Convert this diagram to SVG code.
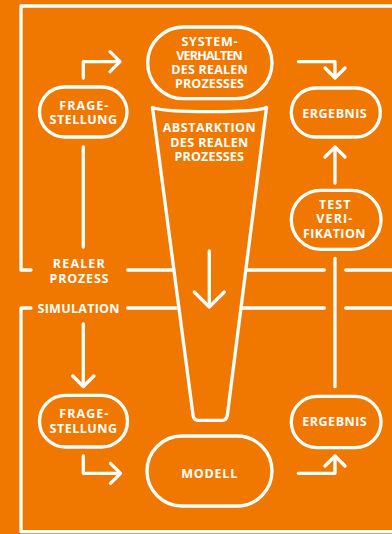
<svg xmlns="http://www.w3.org/2000/svg" xmlns:xlink="http://www.w3.org/1999/xlink" width="392" height="534" viewBox="0 0 392 534">
<style>
.ln{stroke:#fff;stroke-width:3.3;fill:none;stroke-linecap:round;stroke-linejoin:round}
.t{font-family:"Open Sans","Liberation Sans",sans-serif;font-weight:700;font-size:12.5px;fill:#fff;text-anchor:middle}
</style>
<defs>
<path id="chev" d="M-10,-10 L0,0 L10,-10"/>
</defs>
<rect x="0" y="0" width="392" height="534" fill="#F17800"/>
<g id="frame" class="ln">
<path d="M31,270 L21,270 L21,6 L392,6"/>
<path d="M31,308 L21,308 L21,531.7 L392,531.7"/>
</g>
<g id="connectors" class="ln">
<path d="M83.3,78 L83.3,61.7 L119,61.7"/>
<use xlink:href="#chev" transform="translate(120,61.7) rotate(-90)"/>
<path d="M298.5,61.7 L335,61.7 L335,77"/>
<use xlink:href="#chev" transform="translate(335,78)"/>
<path d="M335,183 L335,148"/>
<use xlink:href="#chev" transform="translate(335,147) rotate(180)"/>
<path d="M83.3,147 L83.3,247"/>
<path d="M335,258.3 L335,386.7"/>
<path d="M127.7,270 L173.6,270 M246.4,270 L324.3,270 M345.7,270 L392,270"/>
<path d="M127.7,308 L178.6,308 M241.5,308 L324.3,308 M345.7,308 L392,308"/>
<path d="M209.3,251 L209.3,306"/>
<use xlink:href="#chev" transform="translate(209.3,307) scale(1.5)" style="stroke-width:2.2"/>
<path d="M83.3,324 L83.3,385.5"/>
<use xlink:href="#chev" transform="translate(83.3,386.5) scale(1.05)"/>
<path d="M83.3,456 L83.3,473.3 L119.5,473.3"/>
<use xlink:href="#chev" transform="translate(120.5,473.3) rotate(-90)"/>
<path d="M298.3,473.3 L335,473.3 L335,457"/>
<use xlink:href="#chev" transform="translate(335,456) rotate(180)"/>
</g>
<g id="system" class="node">
<rect class="ln" x="147.7" y="27" width="124.3" height="71.7" rx="35.8"/>
<text class="t" x="209.5" y="46" textLength="56">SYSTEM-</text>
<text class="t" x="209.5" y="60" textLength="66.5">VERHALTEN</text>
<text class="t" x="209.5" y="74.3" textLength="76.5">DES REALEN</text>
<text class="t" x="209.5" y="88.3" textLength="69">PROZESSES</text>
</g>
<g id="abstraktion" class="node">
<path class="ln" d="M152.5,107.5 C165,113 255,113 266.5,107.5 L227.3,415.5 Q226.6,420.3 222,420.3 L198.3,420.3 Q193.7,420.3 193.1,415.5 Z"/>
<text class="t" x="209.2" y="131.7" textLength="93">ABSTARKTION</text>
<text class="t" x="209.2" y="146.5" textLength="78">DES REALEN</text>
<text class="t" x="209.2" y="161" textLength="69.5">PROZESSES</text>
</g>
<g id="frage1" class="node">
<rect class="ln" x="39.5" y="87" width="87.5" height="50" rx="25"/>
<text class="t" x="83.8" y="110.3" textLength="49">FRAGE-</text>
<text class="t" x="83.3" y="123.8" textLength="67.5">STELLUNG</text>
</g>
<g id="ergebnis1" class="node">
<rect class="ln" x="291.3" y="88" width="89" height="49" rx="24.5"/>
<text class="t" x="334.5" y="118" textLength="64.5">ERGEBNIS</text>
</g>
<g id="test" class="node">
<rect class="ln" x="291.3" y="190.3" width="89.7" height="59" rx="29.5"/>
<text class="t" x="334.7" y="209" textLength="31.5">TEST</text>
<text class="t" x="334.3" y="223.3" textLength="36">VERI-</text>
<text class="t" x="334.2" y="238.3" textLength="62.5">FIKATION</text>
</g>
<g id="realer" class="node">
<text class="t" x="78.8" y="268" textLength="52">REALER</text>
<text class="t" x="79" y="283" textLength="59">PROZESS</text>
</g>
<g id="simulation" class="node">
<text class="t" x="78.5" y="313" textLength="82">SIMULATION</text>
</g>
<g id="frage2" class="node">
<rect class="ln" x="39.5" y="395.3" width="88" height="51.7" rx="25.8"/>
<text class="t" x="83.8" y="417.8" textLength="49">FRAGE-</text>
<text class="t" x="83.3" y="433" textLength="67.5">STELLUNG</text>
</g>
<g id="ergebnis2" class="node">
<rect class="ln" x="291.3" y="396.3" width="89.7" height="51.4" rx="25.7"/>
<text class="t" x="334.5" y="426" textLength="64.5">ERGEBNIS</text>
</g>
<g id="modell" class="node">
<rect class="ln" x="147" y="436" width="125" height="70" rx="35"/>
<text class="t" x="209.2" y="477.8" textLength="56">MODELL</text>
</g>
</svg>
